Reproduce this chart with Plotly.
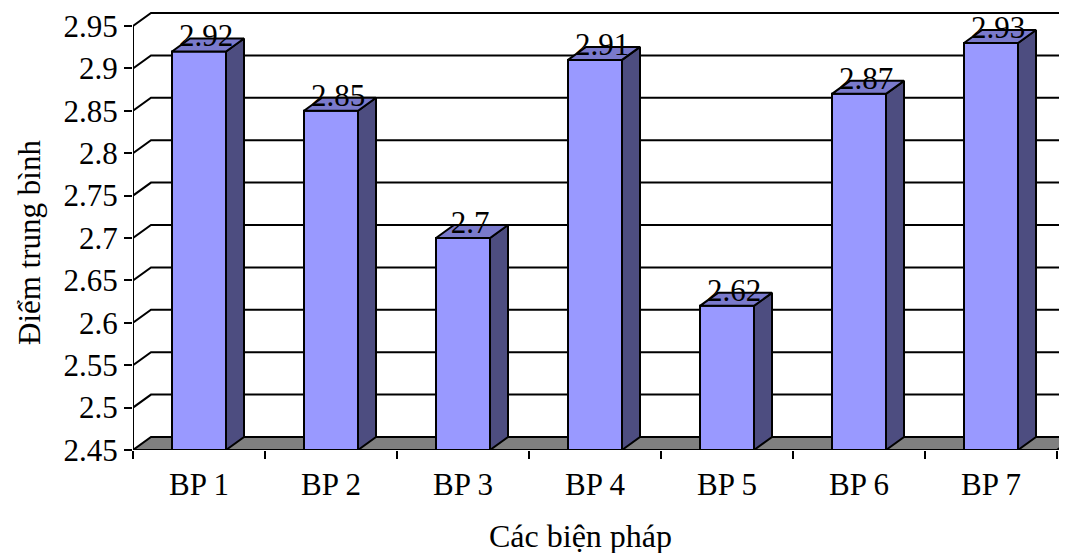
import plotly.graph_objects as go

# ---- data ----
categories = ["BP 1", "BP 2", "BP 3", "BP 4", "BP 5", "BP 6", "BP 7"]
values = [2.92, 2.85, 2.70, 2.91, 2.62, 2.87, 2.93]
value_labels = ["2.92", "2.85", "2.7", "2.91", "2.62", "2.87", "2.93"]
y_ticks = [2.45, 2.50, 2.55, 2.60, 2.65, 2.70, 2.75, 2.80, 2.85, 2.90, 2.95]
y_tick_labels = ["2.45", "2.5", "2.55", "2.6", "2.65", "2.7", "2.75", "2.8", "2.85", "2.9", "2.95"]

# ---- layout constants (page body adds an 8px offset) ----
OFF = 8
W, H = 1067 - OFF, 553 - OFF
ML = 133 - OFF
PLOT_BOTTOM = 450 - OFF
MB = H - PLOT_BOTTOM
PX_PER_CAT = 132.0
PX_PER_VAL = 848.0
DX = 18 / PX_PER_CAT      # depth offset in category units
DY = 13 / PX_PER_VAL      # depth offset in value units
BAR_W = 54 / PX_PER_CAT
BASE = y_ticks[0]
N = len(categories)
XMAX = (W - ML) / PX_PER_CAT
YMAX = BASE + PLOT_BOTTOM / PX_PER_VAL
PW, PH = W - ML, PLOT_BOTTOM

FONT = "Liberation Serif, Times New Roman, serif"
FRONT = "#9999FF"
SIDE = "#4D4D80"
TOP = "#7A7ACC"
FLOOR = "#808080"

centers = [i + 0.5 for i in range(N)]

fig = go.Figure()

# floor
fig.add_trace(go.Scatter(
    x=[0, N, N + DX, DX, 0],
    y=[BASE, BASE, BASE + DY, BASE + DY, BASE],
    fill="toself", fillcolor=FLOOR, mode="lines",
    line=dict(color="black", width=2), hoverinfo="skip", showlegend=False))

# gridlines on the back wall with slanted connectors
gx, gy = [], []
for v in y_ticks[1:]:
    gx += [0, DX, N + DX, None]
    gy += [v, v + DY, v + DY, None]
fig.add_trace(go.Scatter(x=gx, y=gy, mode="lines",
                         line=dict(color="black", width=2),
                         hoverinfo="skip", showlegend=False))

# front value axis line
fig.add_trace(go.Scatter(x=[0, 0], y=[y_ticks[0], y_ticks[-1]], mode="lines",
                         line=dict(color="black", width=2),
                         hoverinfo="skip", showlegend=False))

# bars: front, side, top faces
fx, fy, sx, sy, tx, ty = [], [], [], [], [], []
for c, v in zip(centers, values):
    l, r = c - BAR_W / 2, c + BAR_W / 2
    fx += [l, r, r, l, l, None]
    fy += [BASE, BASE, v, v, BASE, None]
    sx += [r, r + DX, r + DX, r, r, None]
    sy += [BASE, BASE + DY, v + DY, v, BASE, None]
    tx += [l, r, r + DX, l + DX, l, None]
    ty += [v, v, v + DY, v + DY, v, None]

for xs, ys, col in [(fx, fy, FRONT), (sx, sy, SIDE), (tx, ty, TOP)]:
    fig.add_trace(go.Scatter(x=xs, y=ys, fill="toself", fillcolor=col,
                             mode="lines", line=dict(color="black", width=2),
                             hoverinfo="skip", showlegend=False))

# value labels
fig.add_trace(go.Scatter(
    x=[c + DX * 0.4 for c in centers], y=[v + DY for v in values],
    mode="text", text=value_labels, textposition="middle center",
    textfont=dict(family=FONT, size=31, color="black"),
    hoverinfo="skip", showlegend=False, cliponaxis=False))

fig.update_layout(
    width=W, height=H,
    margin=dict(l=ML, r=0, t=0, b=MB, pad=0),
    paper_bgcolor="white", plot_bgcolor="white",
    font=dict(family=FONT, size=30, color="black"),
    showlegend=False,
    xaxis=dict(range=[0, XMAX], tickvals=centers, ticktext=categories,
               ticks="", showgrid=False, zeroline=False, showline=False,
               ticklabelstandoff=13,
               tickfont=dict(family=FONT, size=31, color="black"),
               minor=dict(ticks="outside", dtick=1, tick0=0, ticklen=8,
                          tickwidth=2, tickcolor="black", showgrid=False)),
    yaxis=dict(range=[BASE, YMAX], tickvals=y_ticks, ticktext=y_tick_labels,
               ticks="outside", ticklen=8, tickwidth=2, tickcolor="black",
               showgrid=False, zeroline=False, showline=False,
               tickfont=dict(family=FONT, size=31, color="black")),
    annotations=[
        dict(text="Điểm trung bình", xref="paper", yref="paper",
             x=(21 - ML) / PW, y=(PLOT_BOTTOM - (243 - OFF)) / PH,
             textangle=-90, showarrow=False,
             xanchor="center", yanchor="middle",
             font=dict(family=FONT, size=31, color="black")),
        dict(text="Các biện pháp", xref="paper", yref="paper",
             x=(580 - OFF - ML) / PW, y=-((536 - OFF) - PLOT_BOTTOM) / PH,
             showarrow=False, xanchor="center", yanchor="middle",
             font=dict(family=FONT, size=32, color="black")),
    ],
)

fig.write_html("out.html")
